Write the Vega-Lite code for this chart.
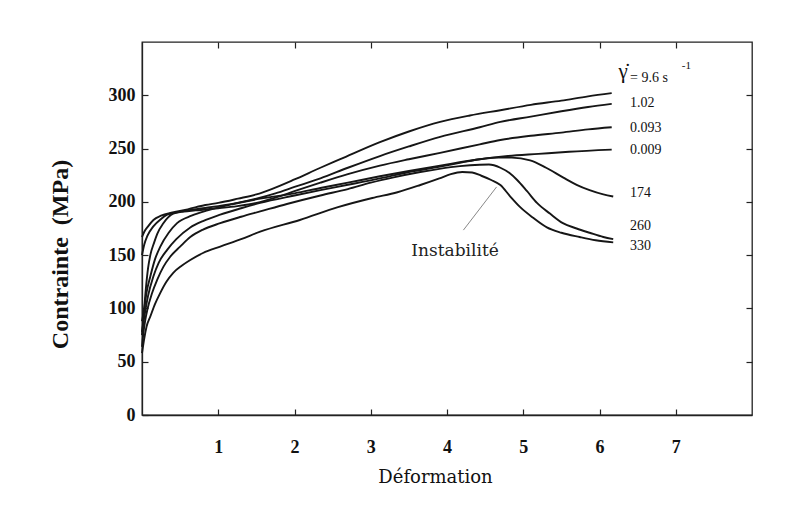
{
  "$schema": "https://vega.github.io/schema/vega-lite/v6.json",
  "width": 610,
  "height": 373,
  "autosize": {"type": "none"},
  "padding": {"left": 142, "top": 42, "right": 35, "bottom": 102},
  "background": "white",
  "config": {
    "view": {"stroke": "#222", "strokeWidth": 1.3},
    "font": "Liberation Serif",
    "axis": {"grid": false, "labelFlush": false}
  },
  "datasets": {
    "curves": [
      {"rate": "9.6", "strain": 0, "stress": 167}, {"rate": "9.6", "strain": 0.03, "stress": 172}, {"rate": "9.6", "strain": 0.08, "stress": 177}, {"rate": "9.6", "strain": 0.15, "stress": 183}, {"rate": "9.6", "strain": 0.25, "stress": 187}, {"rate": "9.6", "strain": 0.4, "stress": 190}, {"rate": "9.6", "strain": 0.6, "stress": 193}, {"rate": "9.6", "strain": 0.83, "stress": 197}, {"rate": "9.6", "strain": 1.0, "stress": 199}, {"rate": "9.6", "strain": 1.26, "stress": 203}, {"rate": "9.6", "strain": 1.5, "stress": 207}, {"rate": "9.6", "strain": 1.7, "stress": 212}, {"rate": "9.6", "strain": 2.0, "stress": 221}, {"rate": "9.6", "strain": 2.34, "stress": 232}, {"rate": "9.6", "strain": 2.6, "stress": 240}, {"rate": "9.6", "strain": 3.12, "stress": 256}, {"rate": "9.6", "strain": 3.5, "stress": 266}, {"rate": "9.6", "strain": 3.91, "stress": 275}, {"rate": "9.6", "strain": 4.3, "stress": 281}, {"rate": "9.6", "strain": 4.7, "stress": 286}, {"rate": "9.6", "strain": 5.1, "stress": 291}, {"rate": "9.6", "strain": 5.5, "stress": 295}, {"rate": "9.6", "strain": 5.85, "stress": 299}, {"rate": "9.6", "strain": 6.16, "stress": 302},
      {"rate": "1.02", "strain": 0, "stress": 150}, {"rate": "1.02", "strain": 0.03, "stress": 160}, {"rate": "1.02", "strain": 0.07, "stress": 168}, {"rate": "1.02", "strain": 0.149, "stress": 177}, {"rate": "1.02", "strain": 0.25, "stress": 184}, {"rate": "1.02", "strain": 0.33, "stress": 188}, {"rate": "1.02", "strain": 0.45, "stress": 190}, {"rate": "1.02", "strain": 0.6, "stress": 192}, {"rate": "1.02", "strain": 0.8, "stress": 194}, {"rate": "1.02", "strain": 1.0, "stress": 196}, {"rate": "1.02", "strain": 1.25, "stress": 199}, {"rate": "1.02", "strain": 1.5, "stress": 203}, {"rate": "1.02", "strain": 1.75, "stress": 208}, {"rate": "1.02", "strain": 2.0, "stress": 214}, {"rate": "1.02", "strain": 2.34, "stress": 222}, {"rate": "1.02", "strain": 2.7, "stress": 232}, {"rate": "1.02", "strain": 3.12, "stress": 243}, {"rate": "1.02", "strain": 3.5, "stress": 252}, {"rate": "1.02", "strain": 3.91, "stress": 261}, {"rate": "1.02", "strain": 4.43, "stress": 270}, {"rate": "1.02", "strain": 4.7, "stress": 275}, {"rate": "1.02", "strain": 5.1, "stress": 280}, {"rate": "1.02", "strain": 5.5, "stress": 285}, {"rate": "1.02", "strain": 5.85, "stress": 289}, {"rate": "1.02", "strain": 6.16, "stress": 292},
      {"rate": "0.093", "strain": 0, "stress": 75}, {"rate": "0.093", "strain": 0.02, "stress": 92}, {"rate": "0.093", "strain": 0.05, "stress": 118}, {"rate": "0.093", "strain": 0.08, "stress": 138}, {"rate": "0.093", "strain": 0.109, "stress": 150}, {"rate": "0.093", "strain": 0.16, "stress": 162}, {"rate": "0.093", "strain": 0.2, "stress": 170}, {"rate": "0.093", "strain": 0.28, "stress": 180}, {"rate": "0.093", "strain": 0.41, "stress": 189}, {"rate": "0.093", "strain": 0.55, "stress": 191}, {"rate": "0.093", "strain": 0.7, "stress": 192}, {"rate": "0.093", "strain": 1.0, "stress": 194}, {"rate": "0.093", "strain": 1.25, "stress": 196}, {"rate": "0.093", "strain": 1.5, "stress": 199}, {"rate": "0.093", "strain": 1.75, "stress": 204}, {"rate": "0.093", "strain": 2.0, "stress": 210}, {"rate": "0.093", "strain": 2.34, "stress": 218}, {"rate": "0.093", "strain": 2.7, "stress": 226}, {"rate": "0.093", "strain": 3.12, "stress": 234}, {"rate": "0.093", "strain": 3.5, "stress": 240}, {"rate": "0.093", "strain": 3.91, "stress": 246}, {"rate": "0.093", "strain": 4.43, "stress": 254}, {"rate": "0.093", "strain": 4.7, "stress": 258}, {"rate": "0.093", "strain": 5.1, "stress": 262}, {"rate": "0.093", "strain": 5.5, "stress": 265}, {"rate": "0.093", "strain": 5.85, "stress": 268}, {"rate": "0.093", "strain": 6.16, "stress": 270},
      {"rate": "0.009", "strain": 0, "stress": 88}, {"rate": "0.009", "strain": 0.03, "stress": 100}, {"rate": "0.009", "strain": 0.06, "stress": 115}, {"rate": "0.009", "strain": 0.109, "stress": 130}, {"rate": "0.009", "strain": 0.17, "stress": 146}, {"rate": "0.009", "strain": 0.24, "stress": 158}, {"rate": "0.009", "strain": 0.35, "stress": 171}, {"rate": "0.009", "strain": 0.46, "stress": 180}, {"rate": "0.009", "strain": 0.65, "stress": 187}, {"rate": "0.009", "strain": 0.86, "stress": 192}, {"rate": "0.009", "strain": 1.2, "stress": 198}, {"rate": "0.009", "strain": 1.55, "stress": 203}, {"rate": "0.009", "strain": 2.0, "stress": 208}, {"rate": "0.009", "strain": 2.34, "stress": 213}, {"rate": "0.009", "strain": 2.7, "stress": 218}, {"rate": "0.009", "strain": 3.12, "stress": 224}, {"rate": "0.009", "strain": 3.5, "stress": 229}, {"rate": "0.009", "strain": 3.91, "stress": 234}, {"rate": "0.009", "strain": 4.43, "stress": 240}, {"rate": "0.009", "strain": 4.8, "stress": 243}, {"rate": "0.009", "strain": 5.2, "stress": 245}, {"rate": "0.009", "strain": 5.6, "stress": 247}, {"rate": "0.009", "strain": 6.16, "stress": 249},
      {"rate": "174", "strain": 0, "stress": 78}, {"rate": "174", "strain": 0.03, "stress": 92}, {"rate": "174", "strain": 0.08, "stress": 112}, {"rate": "174", "strain": 0.149, "stress": 130}, {"rate": "174", "strain": 0.22, "stress": 143}, {"rate": "174", "strain": 0.33, "stress": 155}, {"rate": "174", "strain": 0.45, "stress": 165}, {"rate": "174", "strain": 0.633, "stress": 176}, {"rate": "174", "strain": 0.8, "stress": 182}, {"rate": "174", "strain": 1.026, "stress": 188}, {"rate": "174", "strain": 1.3, "stress": 194}, {"rate": "174", "strain": 1.55, "stress": 199}, {"rate": "174", "strain": 2.0, "stress": 206}, {"rate": "174", "strain": 2.34, "stress": 211}, {"rate": "174", "strain": 2.7, "stress": 216}, {"rate": "174", "strain": 3.12, "stress": 222}, {"rate": "174", "strain": 3.5, "stress": 228}, {"rate": "174", "strain": 3.91, "stress": 233}, {"rate": "174", "strain": 4.2, "stress": 237}, {"rate": "174", "strain": 4.43, "stress": 240}, {"rate": "174", "strain": 4.65, "stress": 241.5}, {"rate": "174", "strain": 4.85, "stress": 241.5}, {"rate": "174", "strain": 5.09, "stress": 239}, {"rate": "174", "strain": 5.3, "stress": 232}, {"rate": "174", "strain": 5.52, "stress": 223}, {"rate": "174", "strain": 5.7, "stress": 216}, {"rate": "174", "strain": 5.87, "stress": 211}, {"rate": "174", "strain": 6.05, "stress": 207}, {"rate": "174", "strain": 6.18, "stress": 205},
      {"rate": "260", "strain": 0, "stress": 64}, {"rate": "260", "strain": 0.02, "stress": 78}, {"rate": "260", "strain": 0.045, "stress": 90}, {"rate": "260", "strain": 0.069, "stress": 98.5}, {"rate": "260", "strain": 0.13, "stress": 114}, {"rate": "260", "strain": 0.2, "stress": 127}, {"rate": "260", "strain": 0.28, "stress": 139}, {"rate": "260", "strain": 0.37, "stress": 148.5}, {"rate": "260", "strain": 0.5, "stress": 158}, {"rate": "260", "strain": 0.633, "stress": 167}, {"rate": "260", "strain": 0.8, "stress": 174}, {"rate": "260", "strain": 1.026, "stress": 180}, {"rate": "260", "strain": 1.3, "stress": 186}, {"rate": "260", "strain": 1.55, "stress": 191}, {"rate": "260", "strain": 1.9, "stress": 198}, {"rate": "260", "strain": 2.34, "stress": 206}, {"rate": "260", "strain": 2.7, "stress": 212}, {"rate": "260", "strain": 3.0, "stress": 218}, {"rate": "260", "strain": 3.3, "stress": 223}, {"rate": "260", "strain": 3.65, "stress": 228}, {"rate": "260", "strain": 3.9, "stress": 231}, {"rate": "260", "strain": 4.17, "stress": 233.5}, {"rate": "260", "strain": 4.43, "stress": 234.8}, {"rate": "260", "strain": 4.55, "stress": 235}, {"rate": "260", "strain": 4.7, "stress": 232}, {"rate": "260", "strain": 4.82, "stress": 227}, {"rate": "260", "strain": 4.92, "stress": 220.5}, {"rate": "260", "strain": 5.05, "stress": 210}, {"rate": "260", "strain": 5.18, "stress": 199}, {"rate": "260", "strain": 5.35, "stress": 189}, {"rate": "260", "strain": 5.52, "stress": 180}, {"rate": "260", "strain": 5.7, "stress": 175}, {"rate": "260", "strain": 5.87, "stress": 171}, {"rate": "260", "strain": 6.05, "stress": 167}, {"rate": "260", "strain": 6.18, "stress": 165},
      {"rate": "330", "strain": 0, "stress": 58}, {"rate": "330", "strain": 0.03, "stress": 72}, {"rate": "330", "strain": 0.06, "stress": 83}, {"rate": "330", "strain": 0.109, "stress": 92.4}, {"rate": "330", "strain": 0.17, "stress": 104}, {"rate": "330", "strain": 0.24, "stress": 114.6}, {"rate": "330", "strain": 0.32, "stress": 125}, {"rate": "330", "strain": 0.41, "stress": 133.4}, {"rate": "330", "strain": 0.52, "stress": 140}, {"rate": "330", "strain": 0.633, "stress": 145.4}, {"rate": "330", "strain": 0.8, "stress": 152}, {"rate": "330", "strain": 1.026, "stress": 158}, {"rate": "330", "strain": 1.3, "stress": 165}, {"rate": "330", "strain": 1.55, "stress": 172}, {"rate": "330", "strain": 2.07, "stress": 183}, {"rate": "330", "strain": 2.57, "stress": 195}, {"rate": "330", "strain": 3.02, "stress": 203.6}, {"rate": "330", "strain": 3.35, "stress": 209}, {"rate": "330", "strain": 3.65, "stress": 215.8}, {"rate": "330", "strain": 3.9, "stress": 222}, {"rate": "330", "strain": 4.05, "stress": 226}, {"rate": "330", "strain": 4.2, "stress": 228}, {"rate": "330", "strain": 4.33, "stress": 227.5}, {"rate": "330", "strain": 4.45, "stress": 224.5}, {"rate": "330", "strain": 4.58, "stress": 220.5}, {"rate": "330", "strain": 4.7, "stress": 215.8}, {"rate": "330", "strain": 4.83, "stress": 205}, {"rate": "330", "strain": 4.96, "stress": 195}, {"rate": "330", "strain": 5.13, "stress": 185}, {"rate": "330", "strain": 5.31, "stress": 176}, {"rate": "330", "strain": 5.5, "stress": 171}, {"rate": "330", "strain": 5.74, "stress": 167}, {"rate": "330", "strain": 5.95, "stress": 164}, {"rate": "330", "strain": 6.18, "stress": 162}
    ],
    "rateLabels": [
      {"strain": 6.4, "stress": 293, "text": "1.02"},
      {"strain": 6.4, "stress": 269.5, "text": "0.093"},
      {"strain": 6.4, "stress": 248.5, "text": "0.009"},
      {"strain": 6.4, "stress": 208, "text": "174"},
      {"strain": 6.4, "stress": 177, "text": "260"},
      {"strain": 6.4, "stress": 159, "text": "330"}
    ],
    "gamma": [{"strain": 6.25, "stress": 316, "text": "γ̇"}],
    "gammaValue": [{"strain": 6.4, "stress": 312.4, "text": "= 9.6 s"}],
    "gammaUnit": [{"strain": 7.08, "stress": 324.6, "text": "-1"}],
    "pointer": [{"strain": 4.65, "stress": 214, "strain2": 4.215, "stress2": 173.5}],
    "note": [{"strain": 4.106, "stress": 149.2, "text": "Instabilité"}]
  },
  "layer": [
    {
      "data": {"name": "curves"},
      "mark": {"type": "line", "interpolate": "monotone", "color": "#161616", "strokeWidth": 1.9},
      "encoding": {
        "x": {
          "field": "strain", "type": "quantitative",
          "scale": {"domain": [0, 8], "nice": false, "zero": false},
          "axis": {
            "values": [1, 2, 3, 4, 5, 6, 7],
            "tickSize": -6, "tickColor": "#222", "tickWidth": 1.2,
            "domainColor": "#222", "domainWidth": 1.3,
            "labelPadding": 29, "labelFont": "Liberation Serif", "labelFontWeight": "bold", "labelFontSize": 18, "labelColor": "#111",
            "title": "Déformation", "titleFont": "DejaVu Serif", "titleFontWeight": "normal", "titleFontSize": 18, "titleColor": "#111",
            "titleX": 293, "titleY": 67, "titleBaseline": "alphabetic", "titleAlign": "center"
          }
        },
        "y": {
          "field": "stress", "type": "quantitative",
          "scale": {"domain": [0, 350], "nice": false},
          "axis": {
            "values": [0, 50, 100, 150, 200, 250, 300],
            "tickSize": -6, "tickColor": "#222", "tickWidth": 1.2,
            "domainColor": "#222", "domainWidth": 1.3,
            "labelPadding": 13, "labelFont": "Liberation Serif", "labelFontWeight": "bold", "labelFontSize": 18, "labelColor": "#111",
            "title": "Contrainte\u00a0\u00a0(MPa)", "titleFont": "Liberation Serif", "titleFontWeight": "bold", "titleFontSize": 24, "titleColor": "#111",
            "titleX": -75, "titleY": 212, "titleBaseline": "alphabetic", "titleAlign": "center", "titleAngle": -90
          }
        },
        "detail": {"field": "rate", "type": "nominal"}
      }
    },
    {
      "data": {"name": "rateLabels"},
      "mark": {"type": "text", "align": "left", "baseline": "middle", "font": "Liberation Serif", "fontSize": 14, "color": "#111"},
      "encoding": {
        "x": {"field": "strain", "type": "quantitative", "axis": {"orient": "top", "values": [1, 2, 3, 4, 5, 6, 7], "labels": false, "domain": false, "tickSize": -6, "tickColor": "#222", "tickWidth": 1.2, "title": null}},
        "y": {"field": "stress", "type": "quantitative", "axis": {"orient": "right", "values": [50, 100, 150, 200, 250, 300], "labels": false, "domain": false, "tickSize": -6, "tickColor": "#222", "tickWidth": 1.2, "title": null}},
        "text": {"field": "text"}
      }
    },
    {
      "data": {"name": "gamma"},
      "mark": {"type": "text", "align": "left", "baseline": "alphabetic", "font": "Liberation Serif", "fontSize": 21, "color": "#111"},
      "encoding": {
        "x": {"field": "strain", "type": "quantitative", "axis": null},
        "y": {"field": "stress", "type": "quantitative", "axis": null},
        "text": {"field": "text"}
      }
    },
    {
      "data": {"name": "gammaValue"},
      "mark": {"type": "text", "align": "left", "baseline": "alphabetic", "font": "Liberation Serif", "fontSize": 14, "color": "#111"},
      "encoding": {
        "x": {"field": "strain", "type": "quantitative", "axis": null},
        "y": {"field": "stress", "type": "quantitative", "axis": null},
        "text": {"field": "text"}
      }
    },
    {
      "data": {"name": "gammaUnit"},
      "mark": {"type": "text", "align": "left", "baseline": "alphabetic", "font": "Liberation Serif", "fontSize": 11, "color": "#111"},
      "encoding": {
        "x": {"field": "strain", "type": "quantitative", "axis": null},
        "y": {"field": "stress", "type": "quantitative", "axis": null},
        "text": {"field": "text"}
      }
    },
    {
      "data": {"name": "pointer"},
      "mark": {"type": "rule", "color": "#888", "strokeWidth": 1},
      "encoding": {
        "x": {"field": "strain", "type": "quantitative", "axis": null},
        "y": {"field": "stress", "type": "quantitative", "axis": null},
        "x2": {"field": "strain2"},
        "y2": {"field": "stress2"}
      }
    },
    {
      "data": {"name": "note"},
      "mark": {"type": "text", "align": "center", "baseline": "alphabetic", "font": "DejaVu Serif", "fontSize": 17, "color": "#222"},
      "encoding": {
        "x": {"field": "strain", "type": "quantitative", "axis": null},
        "y": {"field": "stress", "type": "quantitative", "axis": null},
        "text": {"field": "text"}
      }
    }
  ],
  "resolve": {"axis": {"x": "independent", "y": "independent"}}
}
